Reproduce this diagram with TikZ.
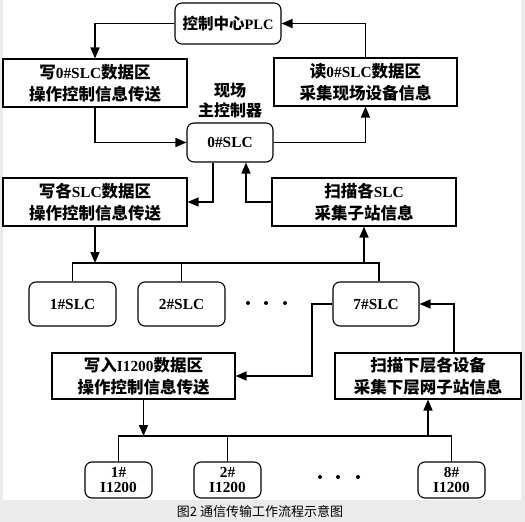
\documentclass[tikz,border=0pt]{standalone}
\usepackage{fontspec}
\newfontfamily\cjk{Noto Sans CJK SC}
\newfontfamily\lat{Liberation Serif}[Scale=0.93]
\newcommand\la[1]{{\lat #1}}
\usetikzlibrary{arrows.meta}
\definecolor{bggray}{RGB}{235,235,235}
\tikzset{
	box/.style={draw,line width=1.1pt,fill=white,align=center,inner sep=0pt,font=\cjk\bfseries\fontsize{16.5}{22}\selectfont},
	rbox/.style={box,rounded corners=7pt},
	ibox/.style={rbox,minimum width=67pt,minimum height=36pt,font=\lat\bfseries\fontsize{16.5}{15}\selectfont},
	arr/.style={line width=1.6pt,-{Triangle[length=11pt,width=9pt]}},
	wire/.style={line width=1.6pt},
}

\begin{document}
\begin{tikzpicture}[x=1pt,y=-1pt]
	\fill[bggray] (0,0) rectangle (525,522);
	\fill[white] (3,0) rectangle (521,500);
	% upper level
	\node[rbox,minimum width=106pt,minimum height=41pt,font=\cjk\bfseries\fontsize{15.5}{20}\selectfont] (plc) at (228,23.5) {控制中心\la{PLC}};
	\node[box,minimum width=184pt,minimum height=48pt] (w0) at (95,83) {写\la{0\#SLC}数据区\\操作控制信息传送};
	\node[box,minimum width=183pt,minimum height=48pt] (r0) at (365.5,82) {读\la{0\#SLC}数据区\\采集现场设备信息};
	\node[font=\cjk\bfseries\fontsize{16}{20}\selectfont,align=center] (lab) at (230,101) {现场\\主控制器};
	\node[rbox,minimum width=86pt,minimum height=39pt] (slc0) at (230,142.5) {\la{0\#SLC}};
	\draw[arr] (plc.west) -| (w0.north);
	\draw[arr] (w0.south) |- (slc0.west);
	\draw[arr] (slc0.east) -| (r0.south);
	\draw[arr] (r0.north) |- (plc.east);
	% SLC level
	\node[box,minimum width=184pt,minimum height=48pt] (wall) at (95,202) {写各\la{SLC}数据区\\操作控制信息传送};
	\node[box,minimum width=184pt,minimum height=48pt] (sall) at (364,202) {扫描各\la{SLC}\\采集子站信息};
	\draw[arr] ([xshift=-17pt]slc0.south) |- (wall.east);
	\draw[arr] (sall.west) -| ([xshift=16pt]slc0.south);
	\coordinate (bus1) at (0,263);
	\node[rbox,minimum width=87pt,minimum height=44pt] (s1) at (72.5,304) {\la{1\#SLC}};
	\node[rbox,minimum width=87pt,minimum height=44pt] (s2) at (181.5,304) {\la{2\#SLC}};
	\node[rbox,minimum width=86pt,minimum height=44pt] (s7) at (376,304) {\la{7\#SLC}};
	\fill (248,303) circle (2pt) (266,303) circle (2pt) (285,303) circle (2pt);
	\draw[wire] (s1.north) |- ([xshift=3pt]s7.north |- bus1) -- ([xshift=3pt]s7.north);
	\draw[wire] (s2.north) -- (s2.north |- bus1);
	\draw[arr] (wall.south) -- (wall.south |- bus1);
	\draw[arr] (sall.south |- bus1) -- (sall.south);
	% lower level
	\node[box,minimum width=183pt,minimum height=46pt] (wi) at (143.5,376) {写入\la{I1200}数据区\\操作控制信息传送};
	\node[box,minimum width=186pt,minimum height=46pt] (sd) at (428,376) {扫描下层各设备\\采集下层网子站信息};
	\coordinate (k7) at (312,340);
	\draw[arr] (s7.west) -| (k7) |- (wi.east);
	\draw[arr] ([xshift=26pt]sd.north) |- (s7.east);
	\coordinate (bus2) at (0,436);
	\node[ibox] (i1) at (118.5,480) {1\#\\I1200};
	\node[ibox] (i2) at (227.5,480) {2\#\\I1200};
	\node[ibox] (i8) at (451.5,480) {8\#\\I1200};
	\fill (320,477) circle (2pt) (338,477) circle (2pt) (358,477) circle (2pt);
	\draw[wire] (i1.north) |- (i8.north |- bus2) -- (i8.north);
	\draw[wire] (i2.north) -- (i2.north |- bus2);
	\draw[arr] (wi.south) -- (wi.south |- bus2);
	\draw[arr] (sd.south |- bus2) -- (sd.south);
	\node[font=\cjk\fontsize{13}{15}\selectfont] (cap) at (260,512) {图2 通信传输工作流程示意图};
\end{tikzpicture}
\end{document}
